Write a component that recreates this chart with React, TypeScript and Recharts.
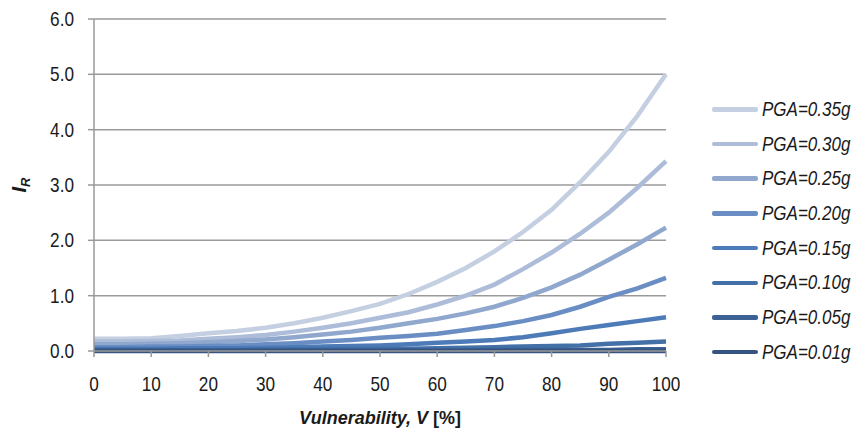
import { LineChart, Line, XAxis, YAxis, CartesianGrid } from "recharts";
import type { CSSProperties } from "react";

const vulnerability = [0, 5, 10, 15, 20, 25, 30, 35, 40, 45, 50, 55, 60, 65, 70, 75, 80, 85, 90, 95, 100];

const pga035 = [0.22, 0.22, 0.23, 0.27, 0.32, 0.36, 0.42, 0.5, 0.6, 0.72, 0.85, 1.03, 1.25, 1.5, 1.8, 2.15, 2.55, 3.05, 3.6, 4.25, 5.0];
const pga030 = [0.17, 0.17, 0.18, 0.19, 0.22, 0.25, 0.29, 0.35, 0.42, 0.5, 0.6, 0.7, 0.84, 1.0, 1.2, 1.48, 1.78, 2.12, 2.5, 2.95, 3.43];
const pga025 = [0.12, 0.12, 0.13, 0.14, 0.16, 0.18, 0.21, 0.25, 0.3, 0.35, 0.42, 0.5, 0.58, 0.68, 0.8, 0.96, 1.15, 1.38, 1.65, 1.93, 2.23];
const pga020 = [0.07, 0.07, 0.08, 0.08, 0.09, 0.1, 0.12, 0.14, 0.17, 0.2, 0.24, 0.27, 0.31, 0.38, 0.45, 0.54, 0.65, 0.8, 0.98, 1.13, 1.32];
const pga015 = [0.04, 0.04, 0.04, 0.05, 0.05, 0.05, 0.06, 0.07, 0.08, 0.09, 0.1, 0.12, 0.15, 0.17, 0.2, 0.25, 0.32, 0.4, 0.47, 0.54, 0.61];
const pga010 = [0.02, 0.02, 0.02, 0.02, 0.02, 0.02, 0.03, 0.03, 0.03, 0.04, 0.04, 0.04, 0.05, 0.06, 0.07, 0.08, 0.09, 0.1, 0.13, 0.15, 0.17];
const pga005 = [0.01, 0.01, 0.01, 0.01, 0.01, 0.01, 0.01, 0.01, 0.01, 0.01, 0.01, 0.01, 0.01, 0.01, 0.02, 0.02, 0.02, 0.02, 0.02, 0.03, 0.03];
const pga001 = [0, 0, 0, 0, 0, 0, 0, 0, 0, 0, 0, 0, 0, 0, 0, 0, 0, 0, 0, 0, 0];

const xTicks = [0, 10, 20, 30, 40, 50, 60, 70, 80, 90, 100];
const yTicks = [0, 1, 2, 3, 4, 5, 6];

const series = [
  { key: "p35", name: "PGA=0.35g", values: pga035, color: "#c5cfe2" },
  { key: "p30", name: "PGA=0.30g", values: pga030, color: "#adbcd9" },
  { key: "p25", name: "PGA=0.25g", values: pga025, color: "#90a7ce" },
  { key: "p20", name: "PGA=0.20g", values: pga020, color: "#6a8ec4" },
  { key: "p15", name: "PGA=0.15g", values: pga015, color: "#4d7bb8" },
  { key: "p10", name: "PGA=0.10g", values: pga010, color: "#4470a8" },
  { key: "p05", name: "PGA=0.05g", values: pga005, color: "#3b6195" },
  { key: "p01", name: "PGA=0.01g", values: pga001, color: "#36547f" },
];

const data = vulnerability.map((v, i) => {
  const row: Record<string, number> = { v };
  series.forEach((s) => (row[s.key] = s.values[i]));
  return row;
});

const font = "'Liberation Sans', Arial, sans-serif";

// no narrow font installed, so squeeze the regular one
function NarrowTick(props: any) {
  const { x, y, payload, textAnchor, axis } = props;
  const label = axis === "y" ? Number(payload.value).toFixed(1) : String(payload.value);
  return (
    <g transform={`translate(${x},${y})`}>
      <text
        transform="scale(0.86,1)"
        textAnchor={textAnchor}
        dy={axis === "y" ? "0.355em" : "0.71em"}
        fontFamily={font}
        fontSize={20}
        fill="#1a1a1a"
      >
        {label}
      </text>
    </g>
  );
}

function LegendList() {
  return (
    <div style={legendBox}>
      {series.map((s) => (
        <div key={s.key} style={legendRow}>
          <span style={{ ...legendLine, background: s.color }} />
          <span style={legendText}>{s.name}</span>
        </div>
      ))}
    </div>
  );
}

function YLabel(props: any) {
  const { viewBox } = props;
  const x = 26;
  const y = viewBox.y + viewBox.height / 2;
  return (
    <text
      x={x}
      y={y}
      transform={`rotate(-90 ${x} ${y})`}
      textAnchor="middle"
      fontFamily={font}
      fontSize={20}
      fontStyle="italic"
      fontWeight="bold"
      fill="#1a1a1a"
    >
      I<tspan fontSize={13} dy={4}>R</tspan>
    </text>
  );
}

function XLabel(props: any) {
  const { viewBox } = props;
  const x = viewBox.x + viewBox.width / 2;
  return (
    <text x={x} y={424} textAnchor="middle" fontFamily={font} fontSize={18} fontWeight="bold" fill="#1a1a1a">
      <tspan fontStyle="italic">Vulnerability, V </tspan>
      <tspan>[%]</tspan>
    </text>
  );
}

export default function App() {
  return (
    <div style={{ position: "relative", width: 854, height: 436, background: "#fff", overflow: "hidden" }}>
      <style>{`body{margin:0}`}</style>
      <LineChart width={854} height={436} data={data} margin={{ top: 19, right: 188, left: 34, bottom: 45 }}>
        <CartesianGrid vertical={false} stroke="#9a9a9a" strokeWidth={1.5} />
        <XAxis
          dataKey="v"
          type="number"
          domain={[0, 100]}
          ticks={xTicks}
          tick={<NarrowTick axis="x" />}
          tickSize={6}
          tickMargin={20}
          height={40}
          axisLine={{ stroke: "#999", strokeWidth: 1.5 }}
          tickLine={{ stroke: "#999", strokeWidth: 1.5 }}
          label={<XLabel />}
        />
        <YAxis
          type="number"
          domain={[0, 6]}
          ticks={yTicks}
          tick={<NarrowTick axis="y" />}
          tickSize={6}
          tickMargin={14}
          width={60}
          axisLine={{ stroke: "#999", strokeWidth: 1.5 }}
          tickLine={{ stroke: "#999", strokeWidth: 1.5 }}
          label={<YLabel />}
        />
        {series.map((s) => (
          <Line
            key={s.key}
            dataKey={s.key}
            name={s.name}
            stroke={s.color}
            strokeWidth={4.5}
            dot={false}
            type="linear"
            isAnimationActive={false}
          />
        ))}
      </LineChart>
      <LegendList />
    </div>
  );
}

const legendBox: CSSProperties = {
  position: "absolute",
  left: 712,
  top: 92,
  width: 200,
};

const legendRow: CSSProperties = {
  display: "flex",
  alignItems: "center",
  height: 34.7,
};

const legendLine: CSSProperties = {
  display: "inline-block",
  flexShrink: 0,
  width: 46,
  height: 4.5,
  borderRadius: 2,
  marginRight: 4,
};

const legendText: CSSProperties = {
  fontFamily: font,
  fontStyle: "italic",
  fontSize: 20,
  color: "#1a1a1a",
  whiteSpace: "nowrap",
  display: "inline-block",
  transform: "scaleX(0.85)",
  transformOrigin: "left center",
};
